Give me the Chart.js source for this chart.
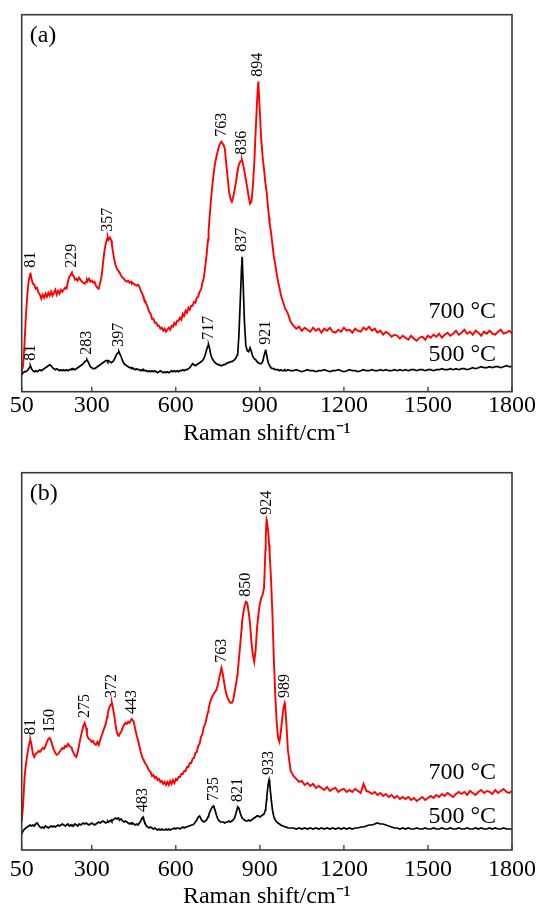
<!DOCTYPE html>
<html>
<head>
<meta charset="utf-8">
<script src="https://cdn.jsdelivr.net/npm/chart.js@4.4.1/dist/chart.umd.min.js"></script>
<style>
  html, body { margin: 0; padding: 0; background: #fff; overflow: hidden; }
  #wrap { position: relative; width: 536px; height: 905px; overflow: hidden; }
  canvas { position: absolute; left: 0; }
</style>
</head>
<body>
<div id="wrap">
  <canvas id="panelA" width="536" height="452" style="top:0"></canvas>
  <canvas id="panelB" width="536" height="470" style="top:452px"></canvas>
</div>
<script>
// Raman shift grid (cm^-1), shared by all four spectra
const ramanShift = [
  50,55,60,65,70,75,80,81,85,90,
  95,100,105,110,115,120,125,130,135,140,
  145,150,155,160,165,170,175,180,185,190,
  195,200,205,210,215,220,225,229,230,235,
  240,245,250,255,260,265,270,275,280,283,
  285,290,295,300,305,310,315,320,325,330,
  335,340,345,350,355,357,360,365,370,372,
  375,380,385,390,395,397,400,405,410,415,
  420,425,430,435,440,443,445,450,455,460,
  465,470,475,480,483,485,490,495,500,505,
  510,515,520,525,530,535,540,545,550,555,
  560,565,570,575,580,585,590,595,600,605,
  610,615,620,625,630,635,640,645,650,655,
  660,665,670,675,680,685,690,695,700,705,
  710,715,717,720,725,730,735,740,745,750,
  755,760,763,765,770,775,780,785,790,795,
  800,805,810,815,820,821,825,830,835,836,
  837,840,845,850,855,860,865,870,875,880,
  885,890,894,895,900,905,910,915,920,921,
  924,925,930,933,935,940,945,950,955,960,
  965,970,975,980,985,989,990,995,1000,1010,
  1020,1030,1040,1050,1060,1070,1080,1090,1100,1110,
  1120,1130,1140,1150,1160,1170,1180,1190,1200,1210,
  1220,1230,1240,1250,1260,1270,1280,1290,1300,1310,
  1320,1330,1340,1350,1360,1370,1380,1390,1400,1410,
  1420,1430,1440,1450,1460,1470,1480,1490,1500,1510,
  1520,1530,1540,1550,1560,1570,1580,1590,1600,1610,
  1620,1630,1640,1650,1660,1670,1680,1690,1700,1710,
  1720,1730,1740,1750,1760,1770,1780,1790,1800
];

// Panel (a) intensities (offset, arbitrary units)
const panelA700 = [
  20,26,48,76,97,111,117,119,113,108,
  107,103,104,99,97,93,97,94,98,95,
  99,96,100,96,99,102,97,101,98,102,
  100,102,104,103,110,115,117,119,117,116,
  112,113,111,114,112,110,109,108,110,112,
  111,113,110,111,109,110,106,104,103,109,
  115,128,140,148,153,155,152,154,151,147,
  141,133,127,123,121,120,119,116,114,113,
  111,110,111,109,110,108,109,108,107,106,
  107,105,101,98,96,94,91,88,84,80,
  78,73,73,69,69,66,66,63,64,61,
  63,60,62,64,62,66,65,69,67,71,
  71,74,72,78,76,81,79,84,82,86,
  86,90,89,94,95,100,102,109,114,125,
  137,152,160,172,190,205,218,228,235,241,
  246,249,250,249,247,243,228,214,200,193,
  190,195,202,210,220,222,227,230,231,232,
  231,228,220,212,204,195,188,190,205,228,
  260,290,310,307,280,252,235,222,208,206,
  200,197,182,174,168,159,147,135,127,118,
  110,104,97,92,88,84,83,81,78,70,
  66,63,65,61,64,62,60,64,61,63,
  59,63,61,64,60,59,62,60,64,61,
  62,59,63,61,60,64,62,65,61,63,
  59,61,57,60,58,55,57,56,53,56,
  54,52,56,53,51,54,55,52,56,54,
  57,55,58,54,57,59,56,58,61,57,
  59,62,58,60,57,61,59,56,60,58,
  61,58,57,60,62,58,59,61,58
];
const panelA500 = [
  17,19,20,20,21,23,25,26,23,21,
  20,21,20,21,22,21,22,23,24,25,
  26,27,26,24,23,22,23,22,21,22,
  21,22,21,22,21,22,22,23,22,23,
  22,23,24,25,26,27,28,30,31,32,
  31,28,25,24,23,23,24,25,26,27,
  28,29,30,31,31,30,31,30,29,29,
  30,32,35,38,39,40,38,35,31,28,
  27,26,25,24,24,23,24,23,22,23,
  22,22,21,22,21,22,21,21,20,21,
  20,21,20,21,20,19,20,21,20,19,
  20,19,20,19,20,21,20,21,20,21,
  20,21,21,22,21,22,22,23,24,26,
  28,27,26,27,28,29,30,31,33,37,
  42,46,47,44,37,33,31,29,28,27,
  27,26,26,26,27,27,28,29,29,30,
  30,31,32,34,37,38,55,90,126,131,
  135,112,70,46,41,40,44,40,35,33,
  32,30,29,29,28,28,30,36,41,42,
  37,35,29,27,26,24,23,23,22,22,
  22,21,22,21,21,22,21,21,22,21,
  21,22,21,20,21,22,21,21,20,21,
  21,22,21,20,21,21,22,21,20,21,
  22,21,21,20,21,22,21,21,22,21,
  21,22,21,22,21,21,22,21,22,21,
  22,21,22,22,21,22,22,21,22,22,
  21,22,22,23,22,22,23,22,23,22,
  23,23,22,23,24,23,24,25,24,24,
  25,24,25,25,24,25,26,25,25
];

// Panel (b) intensities (offset, arbitrary units)
const panelB700 = [
  28,45,72,86,95,104,109,110,105,96,
  93,96,97,99,98,100,102,101,104,108,
  111,112,109,104,100,97,95,96,98,100,
  102,101,104,103,106,104,103,102,100,97,
  94,93,98,105,112,118,124,127,122,116,
  113,111,110,108,109,106,105,108,105,110,
  114,118,122,126,133,136,140,144,146,147,
  143,135,125,117,114,115,116,118,122,125,
  127,126,128,127,130,131,130,128,121,115,
  110,104,98,93,91,90,87,85,82,79,
  78,74,75,72,73,70,71,68,69,66,
  68,65,68,65,69,66,70,67,71,70,
  73,73,76,76,79,79,83,83,87,87,
  91,92,97,98,104,106,113,116,123,126,
  132,138,141,145,150,153,156,158,160,165,
  172,178,182,180,172,163,156,152,149,147,
  147,150,158,166,175,178,190,205,222,226,
  229,235,243,248,247,238,226,208,195,188,
  200,222,233,236,246,252,255,262,300,312,
  330,329,318,305,296,270,235,190,155,128,
  112,108,118,132,143,147,146,125,100,79,
  74,71,68,69,65,67,64,66,62,64,
  62,60,63,59,61,62,58,60,61,58,
  60,58,61,59,57,66,59,58,56,58,
  55,57,54,56,53,55,52,54,51,53,
  51,53,50,52,49,51,53,50,52,54,
  52,55,53,56,54,57,55,53,56,58,
  56,58,55,59,57,55,58,60,57,59,
  58,56,60,57,59,61,58,57,59
];
const panelB500 = [
  16,19,21,22,23,24,25,25,24,25,
  24,26,27,25,23,22,23,22,24,23,
  22,23,24,23,24,23,24,25,24,25,
  26,25,24,25,26,24,25,24,25,24,
  26,25,24,26,25,26,27,26,27,27,
  26,25,26,27,26,25,26,27,28,27,
  28,29,28,27,28,29,28,29,30,29,
  30,31,32,31,32,31,30,31,29,28,
  29,28,27,26,27,26,27,26,25,26,
  25,27,29,32,33,31,27,24,23,22,
  23,22,21,22,21,20,21,20,21,20,
  20,21,20,21,20,21,21,22,21,22,
  22,21,22,23,22,23,23,24,24,25,
  25,26,28,30,33,34,31,29,28,29,
  30,33,34,37,40,43,44,40,35,31,
  29,28,28,28,28,27,28,28,29,28,
  29,30,32,37,42,43,42,37,33,33,
  32,31,30,29,29,30,29,30,31,32,
  33,34,34,34,33,34,35,36,40,42,
  50,54,66,70,67,52,40,33,30,28,
  27,26,25,24,24,23,23,23,22,22,
  22,21,22,21,22,21,22,21,22,21,
  22,21,22,21,22,21,22,21,22,21,
  22,21,22,22,23,23,24,25,25,26,
  27,26,26,25,24,23,22,22,21,22,
  21,22,21,21,22,21,21,22,21,21,
  22,21,21,22,21,21,22,21,21,22,
  21,21,22,21,21,22,21,22,21,21,
  22,21,22,21,21,22,21,21,21
];

// Band positions marked on each spectrum (cm^-1)
const peaksA700 = [81, 229, 357, 763, 836, 894];
const peaksA500 = [81, 283, 397, 717, 837, 921];
const peaksB700 = [81, 150, 275, 372, 443, 763, 850, 924, 989];
const peaksB500 = [483, 735, 821, 933];

const xTickValues = [50, 300, 600, 900, 1200, 1500, 1800];
const seriesNames = ['700 °C', '500 °C'];
const panelLetters = ['(a)', '(b)'];
const axisTitle = 'Raman shift/cm⁻¹';

const SERIF = "'Liberation Serif', 'Times New Roman', serif";

// Frame, inward ticks, band labels, series names and panel letter
const annotate = {
  id: 'annotate',
  afterDatasetsDraw(chart, args, o) {
    const { ctx, chartArea: a, scales: { x, y } } = chart;
    ctx.save();
    ctx.strokeStyle = '#3a3a3a';
    ctx.lineWidth = 1.3;
    xTickValues.forEach(v => {
      const px = x.getPixelForValue(v);
      ctx.beginPath();
      ctx.moveTo(px, a.bottom);
      ctx.lineTo(px, a.bottom - 5);
      ctx.stroke();
    });
    ctx.lineWidth = 1.6;
    ctx.strokeRect(a.left, a.top, a.width, a.height);

    ctx.fillStyle = '#000';
    ctx.font = '16px ' + SERIF;
    ctx.textAlign = 'left';
    ctx.textBaseline = 'middle';
    o.bands.forEach(b => {
      b.peaks.forEach(p => {
        const i = ramanShift.indexOf(p);
        const px = x.getPixelForValue(p);
        const py = y.getPixelForValue(b.values[i]) - 5;
        ctx.save();
        ctx.translate(px, py);
        ctx.rotate(-Math.PI / 2);
        ctx.fillText(String(p), 0, 0);
        ctx.restore();
      });
    });

    ctx.font = '24px ' + SERIF;
    ctx.textAlign = 'right';
    o.names.forEach(n => {
      ctx.fillText(n.text, a.right - 16, y.getPixelForValue(n.level));
    });

    ctx.textAlign = 'left';
    ctx.fillText(o.letter, a.left + 8, a.top + 21);
    ctx.restore();
  }
};

function makePanel(id, hot, cool, bandsHot, bandsCool, letter, lay) {
  const toPts = vals => ramanShift.map((s, i) => ({ x: s, y: vals[i] }));
  return new Chart(document.getElementById(id), {
    type: 'line',
    data: {
      datasets: [
        { label: seriesNames[0], data: toPts(hot), borderColor: '#ff0000', borderWidth: 1.9,
          pointRadius: 0, tension: 0, fill: false },
        { label: seriesNames[1], data: toPts(cool), borderColor: '#000000', borderWidth: 1.7,
          pointRadius: 0, tension: 0, fill: false }
      ]
    },
    options: {
      responsive: false,
      animation: false,
      devicePixelRatio: 1,
      layout: { padding: { left: 21.7, right: 23.3, top: lay.top, bottom: 0 } },
      plugins: {
        legend: { display: false },
        tooltip: { enabled: false },
        annotate: {
          letter: letter,
          bands: [ { peaks: bandsHot, values: hot }, { peaks: bandsCool, values: cool } ],
          names: [ { text: seriesNames[0], level: lay.hotLevel }, { text: seriesNames[1], level: lay.coolLevel } ]
        }
      },
      scales: {
        x: {
          type: 'linear', min: 50, max: 1800,
          afterBuildTicks: s => { s.ticks = xTickValues.map(v => ({ value: v })); },
          afterFit: s => { s.height = lay.axisH; },
          ticks: { autoSkip: false, maxRotation: 0, padding: 0, color: '#000',
                   font: { family: SERIF, size: 24 },
                   callback: v => String(v) },
          // label gap below the frame comes from the (undrawn) tick length
          grid: { display: false, drawTicks: lay.labelGap > 0, tickLength: lay.labelGap },
          border: { display: false },
          title: { display: true, text: axisTitle, color: '#000',
                   font: { family: SERIF, size: 24 }, padding: { top: 0, bottom: lay.titlePad } }
        },
        y: { display: false, min: 0, max: 377 }
      }
    },
    plugins: [annotate]
  });
}

makePanel('panelA', panelA700, panelA500, peaksA700, peaksA500, panelLetters[0],
  { top: 14.7, axisH: 60.3, labelGap: 0, titlePad: 4, hotLevel: 80, coolLevel: 37 });
makePanel('panelB', panelB700, panelB500, peaksB700, peaksB500, panelLetters[1],
  { top: 20.7, axisH: 72, labelGap: 5, titlePad: 11, hotLevel: 77, coolLevel: 33 });
</script>
</body>
</html>
